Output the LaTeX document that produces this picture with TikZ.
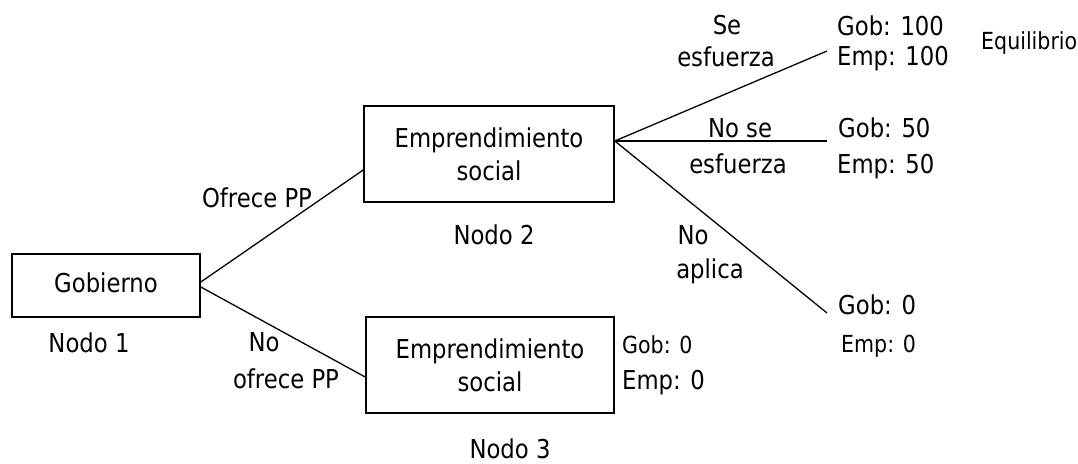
\documentclass[tikz,border=0pt]{standalone}
\usepackage{fontspec}
\setmainfont{DejaVu Sans}[FakeStretch=0.875]
\tikzset{
every node/.style=
    {inner sep=0pt,
    font=\fontsize{26}{33}\selectfont
    },
caja/.style=
    {draw,
    line width=1.6pt,
    align=center,
    minimum width=250pt,
    minimum height=96pt
    },
texto/.style={anchor=base},
pago/.style={anchor=base west},
chico/.style={font=\fontsize{23.5}{30}\selectfont},
rama/.style={line width=1.3pt}}

\begin{document}
\begin{tikzpicture}[x=1pt,y=-1pt]
\useasboundingbox (0,0) rectangle (1078,463);
\node[caja,minimum width=188pt,minimum height=63pt,text depth=6pt] (gob) at (106,285.5) {Gobierno};
\node[caja] (es1) at (489,154) {Emprendimiento\\social};
\node[caja,minimum width=248pt] (es2) at (490,365) {Emprendimiento\\social};
\node[texto] (n1) at (89,352) {Nodo 1};
\node[texto] (n2) at (494,244) {Nodo 2};
\node[texto] (n3) at (510,458) {Nodo 3};
\coordinate (f1) at (827,51);
\coordinate (f2) at (827,141);
\coordinate (f3) at (827,313);
\draw[rama] ([yshift=3.5pt]gob.east) -- ([yshift=-16pt]es1.west);
\draw[rama] ([yshift=-1.5pt]gob.east) -- ([yshift=-12pt]es2.west);
\draw[rama] ([yshift=13pt]es1.east) -- (f1);
\draw[rama] ([yshift=13pt]es1.east) -- (f2);
\draw[rama] ([yshift=13pt]es1.east) -- (f3);
\node[texto] (ofrece) at (257,207) {Ofrece PP};
\node[texto] (noa) at (264,351) {No};
\node[texto] (nob) at (286,388) {ofrece PP};
\node[texto] (sea) at (727,34) {Se};
\node[texto] (seb) at (726,66) {esfuerza};
\node[texto] (nosea) at (740,137) {No se};
\node[texto] (noseb) at (738,173) {esfuerza};
\node[texto] (noapa) at (693,244) {No};
\node[texto] (noapb) at (710,278) {aplica};
\node[pago] (gob1) at (837,35) {Gob: 100};
\node[pago] (emp1) at (837,65) {Emp: 100};
\node[pago,chico] (equi) at (981,49) {Equilibrio};
\node[pago] (gob2) at (838,137) {Gob: 50};
\node[pago] (emp2) at (837,173) {Emp: 50};
\node[pago] (gob3) at (838,314) {Gob: 0};
\node[pago,chico] (emp3) at (841,352) {Emp: 0};
\node[pago,chico] (gob4) at (622,353) {Gob: 0};
\node[pago] (emp4) at (622,389) {Emp: 0};
\end{tikzpicture}
\end{document}
